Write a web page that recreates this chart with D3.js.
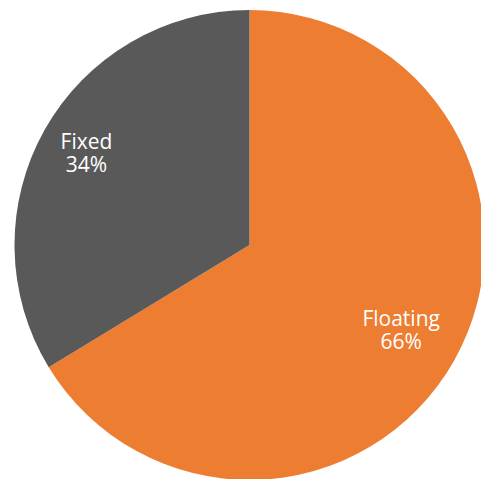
<!DOCTYPE html>
<html>
<head>
<meta charset="utf-8">
<script src="https://cdn.jsdelivr.net/npm/d3@7"></script>
<style>
  html, body { margin: 0; padding: 0; background: #fff; overflow: hidden; }
</style>
</head>
<body>
<div id="container"></div>
<script>
const categories = ['Floating', 'Fixed'];
const values = [66.3, 33.7];
const percentLabels = ['66%', '34%'];
const colors = ['#ED7D31', '#595959'];

const width = 481;
const height = 479;
const cx = 249.5;
const cy = 245;
const radius = 235;
// distance of each label block from the centre
const labelRadius = [174, 187];

const svg = d3.select('#container')
    .append('svg')
    .attr('width', width)
    .attr('height', height);

const g = svg.append('g')
    .attr('transform', `translate(${cx}, ${cy})`);

const pie = d3.pie().sort(null).value(d => d.value);
const arcs = pie(categories.map((c, i) => ({ name: c, value: values[i], pct: percentLabels[i], color: colors[i], lr: labelRadius[i] })));

const arc = d3.arc().innerRadius(0).outerRadius(radius);

g.selectAll('path')
    .data(arcs).enter()
    .append('path')
    .attr('d', arc)
    .attr('fill', d => d.data.color);

const labels = g.selectAll('text')
    .data(arcs).enter()
    .append('text')
    .attr('transform', d => {
        const a = (d.startAngle + d.endAngle) / 2;
        return `translate(${Math.sin(a) * d.data.lr}, ${-Math.cos(a) * d.data.lr})`;
    })
    .attr('text-anchor', 'middle')
    .attr('fill', '#ffffff')
    .attr('font-family', '"Open Sans", sans-serif')
    .attr('font-size', 21);

labels.append('tspan')
    .attr('x', 0)
    .attr('y', -4)
    .text(d => d.data.name);

labels.append('tspan')
    .attr('x', 0)
    .attr('y', 19)
    .text(d => d.data.pct);
</script>
</body>
</html>
